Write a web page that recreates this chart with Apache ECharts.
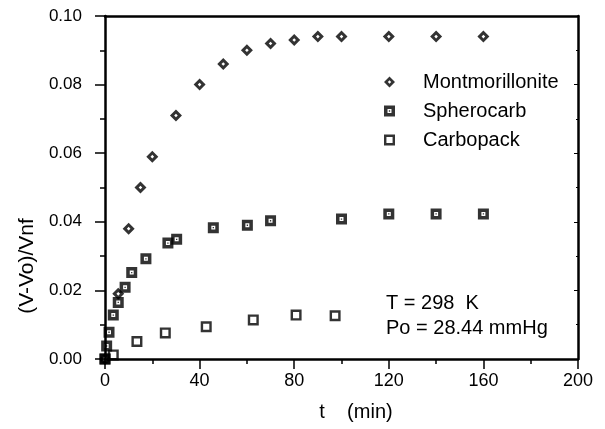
<!DOCTYPE html>
<html>
<head>
<meta charset="utf-8">
<script src="https://cdn.jsdelivr.net/npm/echarts@6/dist/echarts.min.js"></script>
<style>
  html, body { margin: 0; padding: 0; background: #fff; }
  #chart { width: 605px; height: 429px; }
</style>
</head>
<body>
<div id="chart"></div>
<script>
// data (t in min, (V-Vo)/Vnf)
const montT = [0, 5.6, 10, 15, 20, 30, 40, 50, 60, 70, 80, 90, 100, 120, 140, 160]
const montV = [0, 0.019, 0.038, 0.050, 0.059, 0.071, 0.080, 0.086, 0.090, 0.092, 0.093, 0.094, 0.094, 0.094, 0.094, 0.094]

const sphT = [0, 0.7, 1.7, 3.5, 5.6, 8.5, 11.3, 17.3, 26.6, 30.3, 45.8, 60.2, 70, 100, 120, 140, 160]
const sphV = [0, 0.0038, 0.0078, 0.0128, 0.0165, 0.0209, 0.0252, 0.0292, 0.0338, 0.0349, 0.0383, 0.0390, 0.0403, 0.0408, 0.0423, 0.0423, 0.0423]

const carbT = [0, 3.5, 13.5, 25.5, 42.8, 62.7, 80.8, 97.3]
const carbV = [0, 0.0012, 0.0051, 0.0076, 0.0094, 0.0114, 0.0128, 0.0126]

const seriesNames = ['Montmorillonite', 'Spherocarb', 'Carbopack']

const font = '"Liberation Sans", Arial, sans-serif'

// marker shapes: hollow diamond, thick square with dot, open square
const diamondSym = 'path://M5,0L10,5L5,10L0,5Z M5,3.5L3.5,5L5,6.5L6.5,5Z'
const sphSym = 'path://M0,0H10V10H0Z M3.2,3.2V6.8H6.8V3.2Z M4.4,4.4H5.6V5.6H4.4Z'
const carbSym = 'path://M0,0H10V10H0Z M2.2,2.2V7.8H7.8V2.2Z'

const zip = (xs, ys) => xs.map((x, i) => [x, ys[i]])

const chart = echarts.init(document.getElementById('chart'))

const option = {
  animation: false,
  backgroundColor: '#fff',
  grid: { left: 105, right: 27, top: 16, bottom: 70 },
  legend: {
    orient: 'vertical',
    left: 379,
    top: 67,
    itemGap: 9,
    itemWidth: 11,
    itemHeight: 11,
    data: seriesNames,
    textStyle: { fontFamily: font, fontSize: 20, color: '#000', padding: [0, 0, 0, 23] }
  },
  xAxis: [
    {
      type: 'value',
      min: 0,
      max: 200,
      interval: 40,
      axisLine: { onZero: false, lineStyle: { color: '#000', width: 2.5 } },
      axisTick: { inside: false, length: 10, lineStyle: { color: '#000', width: 1.5 } },
      minorTick: { show: true, splitNumber: 2, length: 5, lineStyle: { color: '#000', width: 1.5 } },
      axisLabel: { margin: 13, fontFamily: font, fontSize: 18, color: '#000' },
      splitLine: { show: false }
    },
    {
      type: 'value',
      position: 'top',
      min: 0,
      max: 200,
      interval: 40,
      axisLine: { onZero: false, lineStyle: { color: '#000', width: 2.5 } },
      axisTick: { show: false },
      axisLabel: { show: false },
      splitLine: { show: false }
    }
  ],
  yAxis: [
    {
      type: 'value',
      min: 0,
      max: 0.1,
      interval: 0.02,
      axisLine: { onZero: false, lineStyle: { color: '#000', width: 2.5 } },
      axisTick: { inside: false, length: 10, lineStyle: { color: '#000', width: 1.5 } },
      minorTick: { show: true, splitNumber: 2, length: 5, lineStyle: { color: '#000', width: 1.5 } },
      axisLabel: {
        margin: 23,
        fontFamily: font,
        fontSize: 17,
        color: '#000',
        formatter: (v) => v.toFixed(2)
      },
      splitLine: { show: false }
    },
    {
      type: 'value',
      position: 'right',
      min: 0,
      max: 0.1,
      interval: 0.02,
      axisLine: { show: true, onZero: false, lineStyle: { color: '#000', width: 2.5 } },
      axisTick: { show: true, inside: true, length: 4, lineStyle: { color: '#000' } },
      minorTick: { show: true, splitNumber: 2, length: 2, lineStyle: { color: '#000' } },
      axisLabel: { show: false },
      splitLine: { show: false }
    }
  ],
  graphic: [
    {
      type: 'text',
      x: 27,
      y: 266,
      rotation: Math.PI / 2,
      style: {
        text: '(V-Vo)/Vnf',
        font: '21px ' + font,
        fill: '#000',
        align: 'center',
        verticalAlign: 'middle'
      }
    },
    {
      type: 'text',
      x: 356,
      y: 412,
      style: {
        text: 't    (min)',
        font: '20px ' + font,
        fill: '#000',
        align: 'center',
        verticalAlign: 'middle'
      }
    },
    {
      type: 'text',
      x: 386,
      y: 303,
      style: { text: 'T = 298  K', font: '20px ' + font, fill: '#000', verticalAlign: 'middle' }
    },
    {
      type: 'text',
      x: 386,
      y: 328,
      style: { text: 'Po = 28.44 mmHg', font: '20px ' + font, fill: '#000', verticalAlign: 'middle' }
    }
  ],
  series: [
    {
      name: seriesNames[0],
      type: 'scatter',
      symbol: diamondSym,
      symbolSize: 12,
      itemStyle: { color: '#000' },
      data: zip(montT, montV)
    },
    {
      name: seriesNames[1],
      type: 'scatter',
      symbol: sphSym,
      symbolSize: 11,
      itemStyle: { color: '#000' },
      data: zip(sphT, sphV)
    },
    {
      name: seriesNames[2],
      type: 'scatter',
      symbol: carbSym,
      symbolSize: 11,
      itemStyle: { color: '#000' },
      data: zip(carbT, carbV)
    }
  ]
}

chart.setOption(option)
</script>
</body>
</html>
